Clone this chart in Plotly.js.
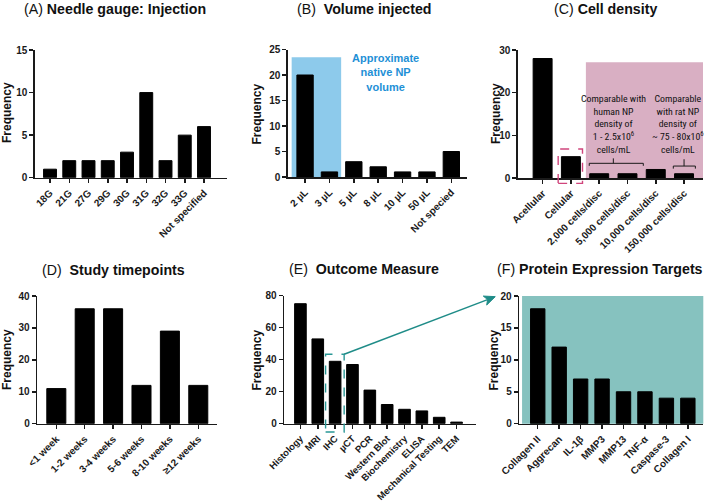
<!DOCTYPE html>
<html>
<head>
<meta charset="utf-8">
<script src="https://cdn.plot.ly/plotly-3.0.1.min.js"></script>
<style>html,body{margin:0;padding:0;background:#fff;}#chart{width:709px;height:503px;}</style>
</head>
<body>
<div id="chart"></div>
<script>
// ---------- data ----------
const gaugeCats = ['18G','21G','27G','29G','30G','31G','32G','33G','Not specified'];
const gaugeVals = [1,2,2,2,3,10,2,5,6];

const volumeCats = ['2 µL','3 µL','5 µL','8 µL','10 µL','50 µL','Not specied'];
const volumeVals = [20,1,3,2,1,1,5];

const densityCats = ['Acellular','Cellular','2,000 cells/disc','5,000 cells/disc','10,000 cells/disc','150,000 cells/disc'];
const densityVals = [28,5,1,1,2,1];

const timeCats = ['<1 week','1-2 weeks','3-4 weeks','5-6 weeks','8-10 weeks','≥12 weeks'];
const timeVals = [11,36,36,12,29,12];

const outcomeCats = ['Histology','MRI','IHC','µCT','PCR','Western Blot','Biochemistry','ELISA','Mechanical Testing','TEM'];
const outcomeVals = [75,53,39,37,21,12,9,8,4,1];

const proteinCats = ['Collagen II','Aggrecan','IL-1β','MMP3','MMP13','TNF-α','Caspase-3','Collagen I'];
const proteinVals = [18,12,7,7,5,5,4,4];

const panelTitles = ['(A) <b>Needle gauge: Injection</b>','(B)  <b>Volume injected</b>','(C) <b>Cell density</b>',
                     '(D)  <b>Study timepoints</b>','(E)  <b>Outcome Measure</b>','(F) <b>Protein Expression Targets</b>'];
const yTitle = 'Frequency';
const volumeNote = 'Approximate<br>native NP<br>volume';
const humanNote = 'Comparable with<br>human NP<br>density of<br>1 - 2.5x10<sup>6</sup><br>cells/mL';
const ratNote = 'Comparable<br>with rat NP<br>density of<br>~ 75 - 80x10<sup>6</sup><br>cells/mL';

// ---------- layout helpers ----------
const W = 709, H = 503;
const P = px => px / W;
const Q = py => 1 - py / H;
const FONT = 'Liberation Sans, Arial, Helvetica, sans-serif';
const INK = '#1a1a1a';

const panels = [
  {cats: gaugeCats,   vals: gaugeVals,   xd:[35,227.3],  yd:[50,177.7],  xr:[-0.78,9.21], yr:[0,15], dt:5,  tf:10},
  {cats: volumeCats,  vals: volumeVals,  xd:[288,466.7], yd:[49.5,177],  xr:[-0.7,6.63],  yr:[0,25], dt:5,  tf:10},
  {cats: densityCats, vals: densityVals, xd:[518,703],   yd:[50,178],    xr:[-0.87,5.67], yr:[0,30], dt:10, tf:10},
  {cats: timeCats,    vals: timeVals,    xd:[37.3,217.3],yd:[296,423.7], xr:[-0.67,5.67], yr:[0,40], dt:10, tf:10},
  {cats: outcomeCats, vals: outcomeVals, xd:[284.3,476], yd:[295.7,423.7],xr:[-0.93,10.12],yr:[0,80], dt:20, tf:9.5},
  {cats: proteinCats, vals: proteinVals, xd:[519.3,703.3],yd:[296,423.7],xr:[-0.86,7.72], yr:[0,20], dt:5,  tf:10}
];

const data = [];
const layout = {
  width: W, height: H,
  margin: {l:0, r:0, t:0, b:0},
  paper_bgcolor: '#fff', plot_bgcolor: 'rgba(0,0,0,0)',
  showlegend: false,
  bargap: 0.33,
  font: {family: FONT, color: INK},
  shapes: [], annotations: []
};

panels.forEach((p, i) => {
  const n = i + 1;
  const xa = n === 1 ? 'x' : 'x' + n;
  const ya = n === 1 ? 'y' : 'y' + n;
  data.push({
    type: 'bar', x: p.cats, y: p.vals, xaxis: xa, yaxis: ya,
    marker: {color: '#000', line: {color: '#000', width: 1}},
    hoverinfo: 'x+y'
  });
  const common = {
    showgrid: false, zeroline: false, showline: true,
    linecolor: INK, linewidth: 1.6,
    ticks: 'outside', ticklen: 4, tickwidth: 1.5, tickcolor: INK,
    fixedrange: true
  };
  layout['xaxis' + (n === 1 ? '' : n)] = Object.assign({}, common, {
    domain: [P(p.xd[0]), P(p.xd[1])], anchor: ya, type: 'category',
    range: p.xr, tickangle: -45,
    tickfont: {family: FONT, size: p.tf, weight: 'bold', color: INK}
  });
  layout['yaxis' + (n === 1 ? '' : n)] = Object.assign({}, common, {
    domain: [Q(p.yd[1]), Q(p.yd[0])], anchor: xa,
    range: p.yr, dtick: p.dt, tick0: 0,
    tickfont: {family: FONT, size: 10, weight: 'bold', color: INK}
  });
});

// panel titles (centre positions in px)
const titlePos = [[115,8.5],[364,9.5],[605,9.5],[113.5,269.5],[363.5,269],[600,268.5]];
panelTitles.forEach((t, i) => {
  layout.annotations.push({
    xref:'paper', yref:'paper', x:P(titlePos[i][0]), y:Q(titlePos[i][1]),
    xanchor:'center', yanchor:'middle', showarrow:false, text:t,
    font:{family:FONT, size:14.2, color:'#111'}
  });
});

// y axis titles
const yTitlePos = [[7,113],[256.5,114],[496,114],[7,360],[256.5,360],[493.5,360]];
yTitlePos.forEach(pt => {
  layout.annotations.push({
    xref:'paper', yref:'paper', x:P(pt[0]), y:Q(pt[1]),
    xanchor:'center', yanchor:'middle', showarrow:false, textangle:-90,
    text:'<b>' + yTitle + '</b>', font:{family:FONT, size:12, color:'#111'}
  });
});

// (B) native NP volume band + label
layout.shapes.push({type:'rect', xref:'x2', yref:'y2', x0:-0.55, x1:1.48, y0:0, y1:23.5,
  fillcolor:'#8dcaeb', line:{width:0}, layer:'below'});
layout.annotations.push({xref:'x2', yref:'y2', x:3.28, y:20.4, showarrow:false,
  text:'<b>' + volumeNote + '</b>', xanchor:'center', yanchor:'middle',
  font:{family:FONT, size:11, color:'#1e90d6'}});

// (C) density band, dashed box, brackets, notes
layout.shapes.push({type:'rect', xref:'x3', yref:'y3', x0:1.53, x1:5.67, y0:0, y1:27.1,
  fillcolor:'#d9afc3', line:{width:0}, layer:'below'});
layout.shapes.push({type:'rect', xref:'x3', yref:'y3 domain', x0:0.55, x1:1.41, y0:-1.25/30, y1:6.8/30,
  line:{color:'#d0457c', width:1.4, dash:'dash'}, fillcolor:'rgba(0,0,0,0)'});
layout.shapes.push({type:'path', xref:'x3', yref:'y3',
  path:'M1.65,2.85 L1.65,3.44 L3.56,3.44 L3.56,2.85 M2.5,3.44 L2.5,4.6',
  line:{color:INK, width:1}});
layout.shapes.push({type:'path', xref:'x3', yref:'y3',
  path:'M4.62,2.2 L4.62,2.8 L5.4,2.8 L5.4,2.2 M5.0,2.8 L5.0,4.4',
  line:{color:INK, width:1}});
const NARROW = 'Liberation Sans Narrow, Arial Narrow, Roboto Condensed, Liberation Sans, Arial, sans-serif';
layout.annotations.push({xref:'x3', yref:'y3', x:2.5, y:12.7, showarrow:false, text:humanNote,
  xanchor:'center', yanchor:'middle', font:{family:NARROW, size:9.8, color:'#111'}});
layout.annotations.push({xref:'x3', yref:'y3', x:4.78, y:12.7, showarrow:false, text:ratNote,
  xanchor:'center', yanchor:'middle', font:{family:NARROW, size:9.8, color:'#111'}});

// (E) dashed box around IHC
const TEAL = '#1f8c88';
layout.shapes.push({type:'rect', xref:'x5', yref:'y5 domain', x0:1.45, x1:2.52, y0:-5.2/80, y1:43.4/80,
  line:{color:'#2a9896', width:1.4, dash:'dash'}, fillcolor:'rgba(0,0,0,0)'});

// (F) teal background
layout.shapes.push({type:'rect', xref:'x6 domain', yref:'y6 domain', x0:0.015, x1:1, y0:0, y1:1,
  fillcolor:'#86c2bf', line:{width:0}, layer:'below'});

// arrow from IHC box (E) to panel F, drawn as shapes in paper space
function toPx(pIdx, xv, yv) {
  const p = panels[pIdx];
  const px = p.xd[0] + (xv - p.xr[0]) / (p.xr[1] - p.xr[0]) * (p.xd[1] - p.xd[0]);
  const py = p.yd[1] - (yv - p.yr[0]) / (p.yr[1] - p.yr[0]) * (p.yd[1] - p.yd[0]);
  return [px, py];
}
const tail = toPx(4, 2.52, 43.4);
const tip = toPx(5, -1.98, 19.9);
const dx = tip[0] - tail[0], dy = tip[1] - tail[1];
const len = Math.hypot(dx, dy), ux = dx / len, uy = dy / len;
const headL = 11, headW = 4.8;
const base = [tip[0] - ux * headL, tip[1] - uy * headL];
const notch = [tip[0] - ux * headL * 0.75, tip[1] - uy * headL * 0.75];
const left = [base[0] - uy * headW, base[1] + ux * headW];
const right = [base[0] + uy * headW, base[1] - ux * headW];
const pp = pt => P(pt[0]).toFixed(5) + ',' + Q(pt[1]).toFixed(5);
layout.shapes.push({type:'path', xref:'paper', yref:'paper',
  path:'M' + pp(tail) + ' L' + pp(notch), line:{color:TEAL, width:1.5}});
layout.shapes.push({type:'path', xref:'paper', yref:'paper',
  path:'M' + pp(tip) + ' L' + pp(left) + ' L' + pp(notch) + ' L' + pp(right) + ' Z',
  fillcolor:TEAL, line:{color:TEAL, width:1}});

Plotly.newPlot('chart', data, layout, {displayModeBar:false, staticPlot:true});
</script>
</body>
</html>
